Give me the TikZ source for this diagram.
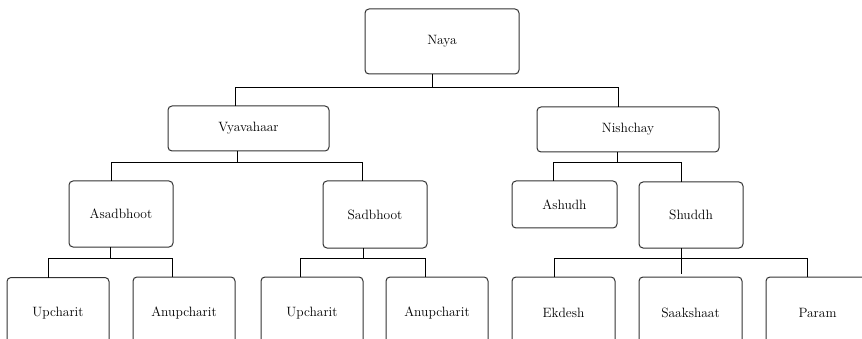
\documentclass[tikz,border=0pt]{standalone}
\begin{document}
\begin{tikzpicture}[x=1pt,y=-1pt,
  nbox/.style={draw=black!80, line width=1pt, rounded corners=4pt, inner sep=0pt, outer sep=0pt,
    font=\fontsize{13.5}{16}\selectfont, align=center},
  conn/.style={draw=black, line width=0.9pt}]
\useasboundingbox (0,0) rectangle (862,339);
\clip (0,0) rectangle (862,339);
% levels
\coordinate (barA) at (0,87);
\coordinate (barB) at (0,162);
\coordinate (barC) at (0,258);
% nodes
\node[nbox, minimum width=154pt, minimum height=65pt] (naya) at (442,41.5) {Naya};
\node[nbox, minimum width=161pt, minimum height=45pt] (vy) at (248.5,128.5) {Vyavahaar};
\node[nbox, minimum width=182pt, minimum height=45pt] (ni) at (628,129.5) {Nishchay};
\node[nbox, minimum width=104pt, minimum height=66pt] (asad) at (121,214) {Asadbhoot};
\node[nbox, minimum width=104pt, minimum height=67pt] (sad) at (375,214.5) {Sadbhoot};
\node[nbox, minimum width=105pt, minimum height=47pt] (ashudh) at (564.5,204.5) {Ashudh};
\node[nbox, minimum width=104pt, minimum height=66pt] (shuddh) at (691,215) {Shuddh};
\node[nbox, minimum width=102pt, minimum height=72pt] (up1) at (58,313.5) {Upcharit};
\node[nbox, minimum width=102pt, minimum height=72pt] (an1) at (184,313) {Anupcharit};
\node[nbox, minimum width=102pt, minimum height=72pt] (up2) at (312,313) {Upcharit};
\node[nbox, minimum width=102pt, minimum height=72pt] (an2) at (437,313) {Anupcharit};
\node[nbox, minimum width=103pt, minimum height=72pt] (ek) at (563.5,313) {Ekdesh};
\node[nbox, minimum width=103pt, minimum height=72pt] (sa) at (690.5,313) {Saakshaat};
\node[nbox, minimum width=103pt, minimum height=72pt] (pa) at (817.5,313) {Param};
% connectors
\draw[conn] ([xshift=-10pt]naya.south) -- ([xshift=-10pt]naya.south |- barA) -| ([xshift=-13.5pt]vy.north);
\draw[conn] ([xshift=-10pt]naya.south) -- ([xshift=-10pt]naya.south |- barA) -| ([xshift=-10pt]ni.north);
\draw[conn] ([xshift=-11.5pt]vy.south) -- ([xshift=-11.5pt]vy.south |- barB) -| ([xshift=-10pt]asad.north);
\draw[conn] ([xshift=-11.5pt]vy.south) -- ([xshift=-11.5pt]vy.south |- barB) -| ([xshift=-13pt]sad.north);
\draw[conn] ([xshift=-11pt]ni.south) -- ([xshift=-11pt]ni.south |- barB) -| ([xshift=-11.5pt]ashudh.north);
\draw[conn] ([xshift=-11pt]ni.south) -- ([xshift=-11pt]ni.south |- barB) -| ([xshift=-10pt]shuddh.north);
\draw[conn] ([xshift=-11pt]asad.south) -- ([xshift=-11pt]asad.south |- barC) -| ([xshift=-10pt]up1.north);
\draw[conn] ([xshift=-11pt]asad.south) -- ([xshift=-11pt]asad.south |- barC) -| ([xshift=-12pt]an1.north);
\draw[conn] ([xshift=-12pt]sad.south) -- ([xshift=-12pt]sad.south |- barC) -| ([xshift=-12pt]up2.north);
\draw[conn] ([xshift=-12pt]sad.south) -- ([xshift=-12pt]sad.south |- barC) -| ([xshift=-12pt]an2.north);
\draw[conn] ([xshift=-10pt]shuddh.south) -- ([xshift=-10pt]shuddh.south |- barC) -| ([xshift=-9.5pt]ek.north);
\draw[conn] ([xshift=-10pt]shuddh.south) -- ([xshift=-10pt]shuddh.south |- barC) -| ([xshift=-10.5pt]pa.north);
\draw[conn] ([xshift=-10pt]shuddh.south) -- ([xshift=-9.5pt,yshift=3pt]sa.north);
\end{tikzpicture}
\end{document}
